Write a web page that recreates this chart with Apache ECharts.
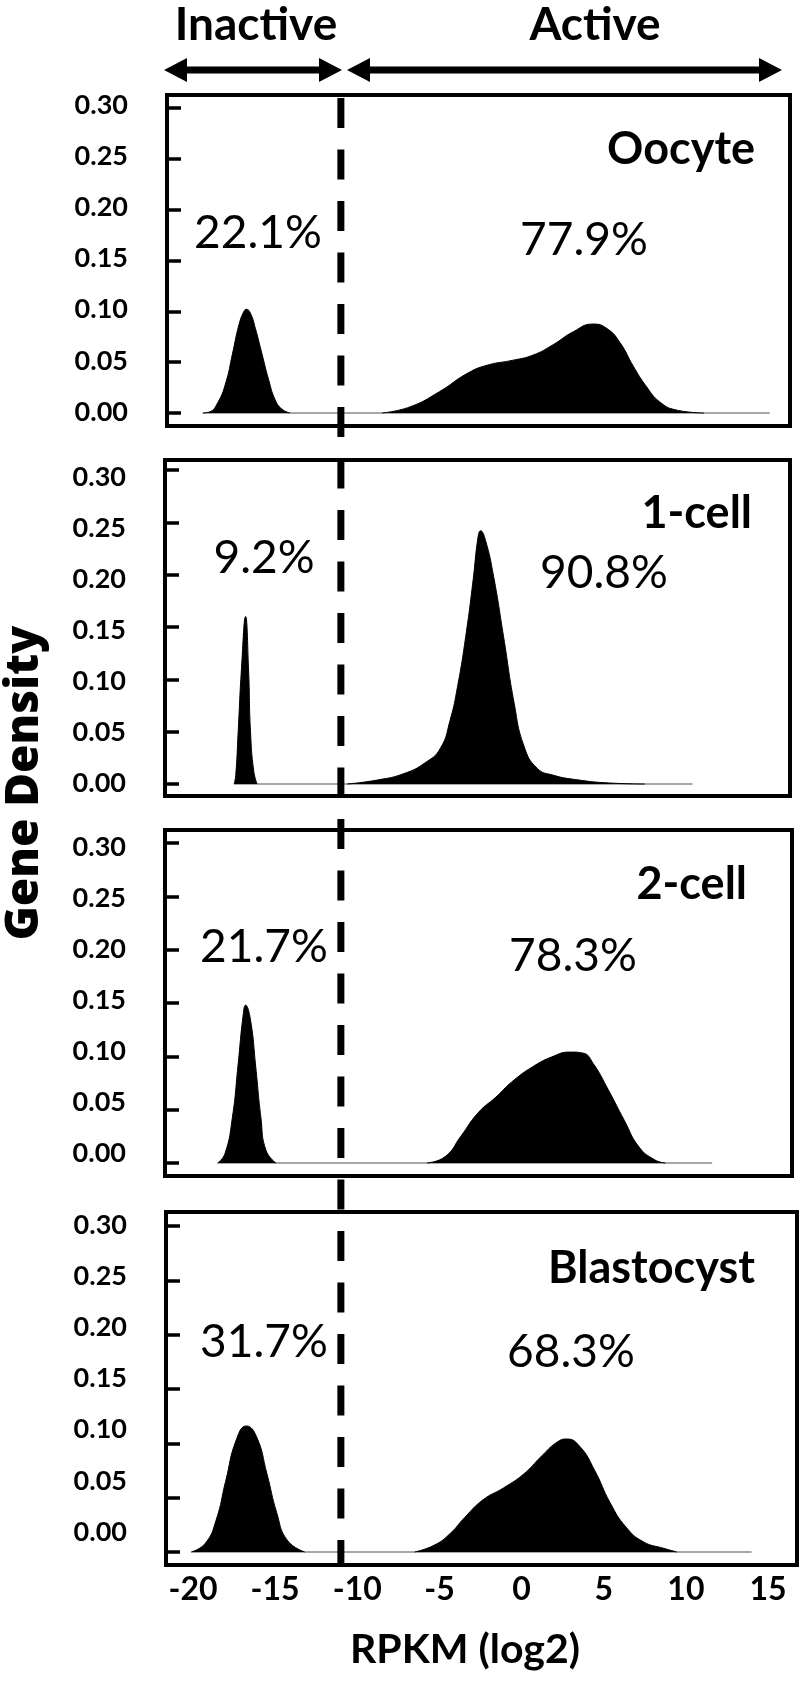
<!DOCTYPE html>
<html><head><meta charset="utf-8">
<script src="https://cdn.jsdelivr.net/npm/echarts@6/dist/echarts.min.js"></script>
<style>html,body{margin:0;padding:0;background:#fff}#c{width:800px;height:1682px}</style>
</head><body><div id="c"></div>
<script>
// ---------------- data ----------------
const stages = ['Oocyte', '1-cell', '2-cell', 'Blastocyst'];
const inactivePct = ['22.1%', '9.2%', '21.7%', '31.7%'];
const activePct = ['77.9%', '90.8%', '78.3%', '68.3%'];
const yTicks = [0, 0.05, 0.10, 0.15, 0.20, 0.25, 0.30];
const xTicks = [-20, -15, -10, -5, 0, 5, 10, 15];
const threshold = -11;   // RPKM (log2) cut between inactive / active

// density curves: [RPKM(log2), density]
const oocyteInactive = [[-19.4,0],[-19.0,0.001],[-18.5,0.010],[-18.0,0.030],[-17.6,0.058],[-17.2,0.087],[-16.9,0.100],[-16.75,0.102],[-16.5,0.098],[-16.2,0.083],[-15.8,0.058],[-15.4,0.033],[-15.0,0.013],[-14.6,0.004],[-14.1,0]];
const oocyteActive = [[-8.5,0],[-6.8,0.006],[-5.0,0.021],[-3.3,0.039],[-2.1,0.047],[-0.5,0.052],[0.7,0.057],[1.9,0.067],[3.15,0.080],[4.35,0.0875],[5.2,0.083],[6.0,0.069],[6.8,0.046],[7.6,0.026],[8.4,0.011],[9.4,0.003],[11.1,0]];
const oocyteRange = [-19.4, 15.1];

const oneCellInactive = [[-17.5,0],[-17.4,0.008],[-17.25,0.05],[-17.05,0.11],[-16.8,0.160],[-16.62,0.11],[-16.5,0.05],[-16.3,0.012],[-16.1,0]];
const oneCellActive = [[-10.6,0],[-8.7,0.004],[-7.15,0.010],[-5.9,0.020],[-4.95,0.034],[-4.35,0.061],[-3.9,0.093],[-3.4,0.141],[-2.95,0.195],[-2.65,0.236],[-2.5,0.242],[-2.2,0.233],[-1.7,0.198],[-1.1,0.141],[-0.45,0.077],[0.15,0.036],[0.95,0.015],[1.9,0.0085],[3.4,0.004],[5.3,0.001],[7.5,0]];
const oneCellRange = [-17.5, 10.4];

const twoCellInactive = [[-18.5,0],[-18.05,0.009],[-17.6,0.043],[-17.27,0.090],[-16.96,0.137],[-16.8,0.148],[-16.5,0.134],[-16.18,0.090],[-15.87,0.043],[-15.56,0.012],[-14.95,0]];
const twoCellActive = [[-5.75,0],[-4.65,0.006],[-3.7,0.025],[-2.65,0.047],[-1.55,0.062],[-0.6,0.076],[0.65,0.090],[1.85,0.0995],[2.95,0.104],[3.75,0.103],[4.35,0.0935],[5.3,0.068],[6.25,0.040],[7.15,0.015],[8.1,0.003],[8.75,0]];
const twoCellRange = [-18.5, 11.6];

const blastInactive = [[-20.1,0],[-19.25,0.008],[-18.6,0.029],[-18.0,0.066],[-17.37,0.103],[-16.75,0.116],[-16.13,0.106],[-15.5,0.072],[-14.9,0.036],[-14.27,0.011],[-13.2,0]];
const blastActive = [[-6.5,0],[-5.3,0.0064],[-4.35,0.017],[-3.45,0.032],[-2.35,0.048],[-1.1,0.059],[0.15,0.072],[1.2,0.088],[2.15,0.101],[2.75,0.104],[3.55,0.097],[4.45,0.075],[5.4,0.045],[6.35,0.023],[7.4,0.0095],[8.65,0.0034],[9.45,0]];
const blastRange = [-20.1, 14.0];

const curves = [
  [oocyteInactive, oocyteActive, oocyteRange],
  [oneCellInactive, oneCellActive, oneCellRange],
  [twoCellInactive, twoCellActive, twoCellRange],
  [blastInactive, blastActive, blastRange]
];

// ---------------- layout (pixels) ----------------
const layout = [
  {frame:[167,95,790,426],   tick0:413,  tick30:108,  lab0:412,  lab30:105,  title:[755,149],  pIn:[258,233],  pAct:[584,240]},
  {frame:[165,460,790,796],  tick0:784,  tick30:470,  lab0:783,  lab30:477,  title:[752,513],  pIn:[264,558],  pAct:[604,573]},
  {frame:[165,830,792,1176], tick0:1163, tick30:843,  lab0:1153, lab30:847,  title:[747,884],  pIn:[264,947],  pAct:[573,956]},
  {frame:[166,1212,797,1565],tick0:1552, tick30:1226, lab0:1532, lab30:1225, title:[755,1268], pIn:[264,1342], pAct:[571,1352]}
];
const X0PX = 521.6, XUNIT = 16.43;   // pixel of x=0 and pixels per log2 unit
const pxToX = px => (px - X0PX) / XUNIT;

const grids = [], xAxes = [], yAxes = [], series = [];
layout.forEach((L, i) => {
  const [l, t, r, b] = L.frame;
  grids.push({left:l, top:t, width:r-l, height:b-t, show:true, borderColor:'#000', borderWidth:4,
              backgroundColor:'transparent', containLabel:false, outerBoundsMode:'none'});
  xAxes.push({gridIndex:i, type:'value', position:'bottom', min:pxToX(l), max:pxToX(r),
    axisLine:{show:false, onZero:false}, axisTick:{show:false}, splitLine:{show:false},
    axisLabel:{show:i===3, customValues:xTicks, margin:9, color:'#000',
      fontFamily:"Lato", fontWeight:'bold', fontSize:32}});
  const k = 0.30 / (L.tick0 - L.tick30);
  yAxes.push({gridIndex:i, type:'value', position:'left',
    min:-(b - L.tick0) * k, max:(L.tick0 - t) * k,
    axisLine:{show:false, onZero:false}, splitLine:{show:false}, axisLabel:{show:false},
    axisTick:{show:true, inside:true, length:14, customValues:yTicks, lineStyle:{color:'#000', width:3.5}}});
  const kl = 0.30 / (L.lab0 - L.lab30);
  yAxes.push({gridIndex:i, type:'value', position:'left', offset:0,
    min:-(b - L.lab0) * kl, max:(L.lab0 - t) * kl,
    axisLine:{show:false, onZero:false}, splitLine:{show:false}, axisTick:{show:false},
    axisLabel:{show:true, customValues:yTicks, margin:39, color:'#000',
      fontFamily:'Lato', fontWeight:'bold', fontSize:27, formatter:v => v.toFixed(2)}});
  const [inact, act, range] = curves[i];
  series.push({type:'line', xAxisIndex:i, yAxisIndex:2*i, data:[[range[0],0],[range[1],0]],
    symbol:'none', silent:true, z:1, lineStyle:{color:'#8a8a8a', width:1.5}});
  [inact, act].forEach(d => series.push({type:'line', xAxisIndex:i, yAxisIndex:2*i, data:d,
    symbol:'none', silent:true, z:2, smooth:0.5,
    lineStyle:{color:'#000', width:1}, areaStyle:{color:'#000', opacity:1, origin:'auto'}}));
});

const chart = echarts.init(document.getElementById('c'), null, {renderer:'canvas'});
chart.setOption({animation:false, backgroundColor:'#fff', grid:grids, xAxis:xAxes, yAxis:yAxes, series:series});

// ---------------- annotations ----------------
const g = [];
function txt(x, y, s, font, align, rot) {
  g.push({type:'text', x:x, y:y, rotation:rot || 0, z:20,
    style:{text:s, x:0, y:0, fill:'#000', font:font, align:align, verticalAlign:'middle'}});
}
layout.forEach((L, i) => {
  txt(L.title[0], L.title[1], stages[i], 'bold 45px Lato', 'right');
  txt(L.pIn[0], L.pIn[1], inactivePct[i], '46px Lato', 'center');
  txt(L.pAct[0], L.pAct[1], activePct[i], '46px Lato', 'center');
});
txt(256, 25, 'Inactive', 'bold 46px Lato', 'center');
txt(595, 25, 'Active', 'bold 46px Lato', 'center');
txt(25, 783, 'Gene Density', '800 46px "Open Sans"', 'center', Math.PI / 2);
txt(465, 1650, 'RPKM (log2)', 'bold 41px Lato', 'center');

function arrow(x1, x2, y) {
  const hl = 23, hh = 12;
  g.push({type:'line', z:20, shape:{x1:x1 + hl - 2, y1:y, x2:x2 - hl + 2, y2:y}, style:{stroke:'#000', lineWidth:7}});
  g.push({type:'polygon', z:20, shape:{points:[[x1,y],[x1+hl,y-hh],[x1+hl,y+hh]]}, style:{fill:'#000'}});
  g.push({type:'polygon', z:20, shape:{points:[[x2,y],[x2-hl,y-hh],[x2-hl,y+hh]]}, style:{fill:'#000'}});
}
arrow(164, 342, 70);
arrow(347, 782, 70);

const cutX = chart.convertToPixel({xAxisIndex:3}, threshold);
g.push({type:'line', z:30, shape:{x1:cutX, y1:98, x2:cutX, y2:1566},
  style:{stroke:'#000', lineWidth:7, lineDash:[30, 21.5]}});

chart.setOption({graphic:g});
</script>
</body></html>
